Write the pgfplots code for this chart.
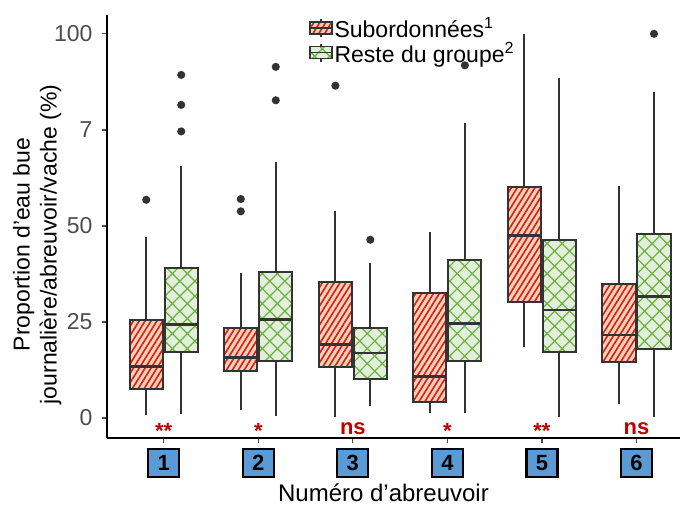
\documentclass[border=0pt]{standalone}
\usepackage{pgfplots}
\pgfplotsset{compat=1.18}
\usepgfplotslibrary{statistics}
\usetikzlibrary{patterns.meta}
\usepackage{fontspec}
\setmainfont{Liberation Sans}

\definecolor{peach}{HTML}{FBD0B6}
\definecolor{stripe}{HTML}{D0201A}
\definecolor{lgreen}{HTML}{E2EFDA}
\definecolor{hgreen}{HTML}{6DB040}
\definecolor{boxline}{HTML}{333333}
\definecolor{tickgray}{HTML}{4D4D4D}
\definecolor{sigred}{HTML}{C00000}
\definecolor{boxblue}{HTML}{5B9BD5}

\tikzset{
  redfill/.style={fill=peach, postaction={pattern={Lines[angle=58,distance=5pt,line width=1.6pt]}, pattern color=stripe}},
  greenfill/.style={fill=lgreen, postaction={pattern={Hatch[angle=45,distance=10.6pt,line width=1.2pt]}, pattern color=hgreen}},
}
\pgfplotsset{
  bp/.style={forget plot, draw=boxline, line width=2pt, solid, mark=*, mark size=3pt,
    mark options={solid, fill=boxline, draw=none},
    boxplot/draw direction=y,
    boxplot/whisker extend=0, boxplot/box extend=0.35,
    boxplot/every whisker/.style={line width=2pt, draw=boxline},
    boxplot/every median/.style={line width=2.6pt, draw=boxline}},
  redbp/.style={bp, boxplot/every box/.style={redfill, line width=2pt, draw=boxline}},
  greenbp/.style={bp, boxplot/every box/.style={greenfill, line width=2pt, draw=boxline}},
}

\begin{document}
\begin{tikzpicture}
\path[use as bounding box] (0,0) rectangle (680pt,506pt);
\begin{axis}[
  at={(107pt,68pt)}, anchor=south west,
  scale only axis, width=573pt, height=423pt,
  xmin=0.40, xmax=6.46, ymin=-5.2, ymax=104.9,
  clip=false,
  axis lines=left, axis line style={-, line width=1.6pt, black},
  tick align=outside, major tick length=5pt,
  tick style={line width=1.3pt, tickgray},
  xtick={1,2,3,4,5,6}, xticklabels={1,2,3,4,5,6},
  ytick={0,25,50,75,100}, yticklabels={0,25,50,7,100},
  yticklabel style={font=\fontsize{23}{26}\selectfont, text=tickgray, xshift=-6pt},
  xticklabel style={font=\bfseries\fontsize{22}{24}\selectfont, text=black, fill=boxblue, draw=black, line width=2.2pt, minimum width=31pt, minimum height=28pt, inner sep=0pt, yshift=-5pt},
  ylabel={Proportion d'eau bue\\journalière/abreuvoir/vache (\%)},
  ylabel style={align=center, font=\fontsize{23}{27}\selectfont, at={(axis description cs:-0.122,0.4575)}, anchor=center},
  xlabel={Numéro d’abreuvoir},
  xlabel style={font=\fontsize{24}{27}\selectfont, at={(axis description cs:0.4825,-0.151)}, anchor=base},
  legend style={at={(axis description cs:0.3525,1.0)}, anchor=north west, draw=none, fill=none,
    font=\fontsize{23}{26}\selectfont, row sep=-1pt, inner sep=0pt},
  legend cell align=left,
]
\addlegendimage{legend image code/.code={
  \draw[boxline, line width=1.4pt] (11pt,-9pt) -- (11pt,9pt);
  \draw[boxline, line width=1.4pt, redfill] (0pt,-6pt) rectangle (22pt,6pt);
  \draw[boxline, line width=1.4pt] (0pt,0pt) -- (22pt,0pt);}}
\addlegendentry{Subordonnées\textsuperscript{1}}
\addlegendimage{legend image code/.code={
  \draw[boxline, line width=1.4pt] (11pt,-9pt) -- (11pt,9pt);
  \draw[boxline, line width=1.4pt, greenfill] (0pt,-6pt) rectangle (22pt,6pt);
  \draw[boxline, line width=1.4pt] (0pt,0pt) -- (22pt,0pt);}}
\addlegendentry{Reste du groupe\textsuperscript{2}}

% Group 1
\addplot[redbp, boxplot prepared={draw position=0.815, lower whisker=0.8, lower quartile=7.6, median=13.4, upper quartile=25.5, upper whisker=47.2}] table[row sep=\\, y index=0] {y\\56.8\\};
\addplot[greenbp, boxplot prepared={draw position=1.185, lower whisker=1.0, lower quartile=17.1, median=24.4, upper quartile=39.1, upper whisker=65.7}] table[row sep=\\, y index=0] {y\\89.3\\81.5\\74.6\\};
% Group 2
\addplot[redbp, boxplot prepared={draw position=1.815, lower whisker=2.1, lower quartile=12.2, median=15.8, upper quartile=23.5, upper whisker=37.7}] table[row sep=\\, y index=0] {y\\57.0\\53.8\\};
\addplot[greenbp, boxplot prepared={draw position=2.185, lower whisker=0.5, lower quartile=14.8, median=25.7, upper quartile=37.9, upper whisker=66.7}] table[row sep=\\, y index=0] {y\\91.4\\82.7\\};
% Group 3
\addplot[redbp, boxplot prepared={draw position=2.815, lower whisker=0.2, lower quartile=13.3, median=19.1, upper quartile=35.4, upper whisker=54.0}] table[row sep=\\, y index=0] {y\\86.5\\};
\addplot[greenbp, boxplot prepared={draw position=3.185, lower whisker=3.1, lower quartile=10.1, median=16.9, upper quartile=23.5, upper whisker=40.4}] table[row sep=\\, y index=0] {y\\46.4\\};
% Group 4
\addplot[redbp, boxplot prepared={draw position=3.815, lower whisker=1.4, lower quartile=4.1, median=10.8, upper quartile=32.6, upper whisker=48.5}] coordinates {};
\addplot[greenbp, boxplot prepared={draw position=4.185, lower whisker=1.4, lower quartile=14.8, median=24.6, upper quartile=41.0, upper whisker=76.7}] table[row sep=\\, y index=0] {y\\91.8\\};
% Group 5
\addplot[redbp, boxplot prepared={draw position=4.815, lower whisker=18.6, lower quartile=30.1, median=47.5, upper quartile=60.2, upper whisker=100}] coordinates {};
\addplot[greenbp, boxplot prepared={draw position=5.185, lower whisker=0.2, lower quartile=17.1, median=28.1, upper quartile=46.4, upper whisker=88.6}] coordinates {};
% Group 6
\addplot[redbp, boxplot prepared={draw position=5.815, lower whisker=3.6, lower quartile=14.5, median=21.6, upper quartile=34.9, upper whisker=60.4}] coordinates {};
\addplot[greenbp, boxplot prepared={draw position=6.185, lower whisker=0.2, lower quartile=17.9, median=31.6, upper quartile=47.8, upper whisker=84.8}] table[row sep=\\, y index=0] {y\\100\\};

\tikzset{sig/.style={text=sigred, font=\bfseries\fontsize{22}{24}\selectfont, anchor=center}}
\node[sig] at (axis cs:1,-3.4) {**};
\node[sig] at (axis cs:2,-3.4) {*};
\node[sig] at (axis cs:3,-2.9) {ns};
\node[sig] at (axis cs:4,-3.4) {*};
\node[sig] at (axis cs:5,-3.4) {**};
\node[sig] at (axis cs:6,-2.9) {ns};
\end{axis}
\end{tikzpicture}
\end{document}
